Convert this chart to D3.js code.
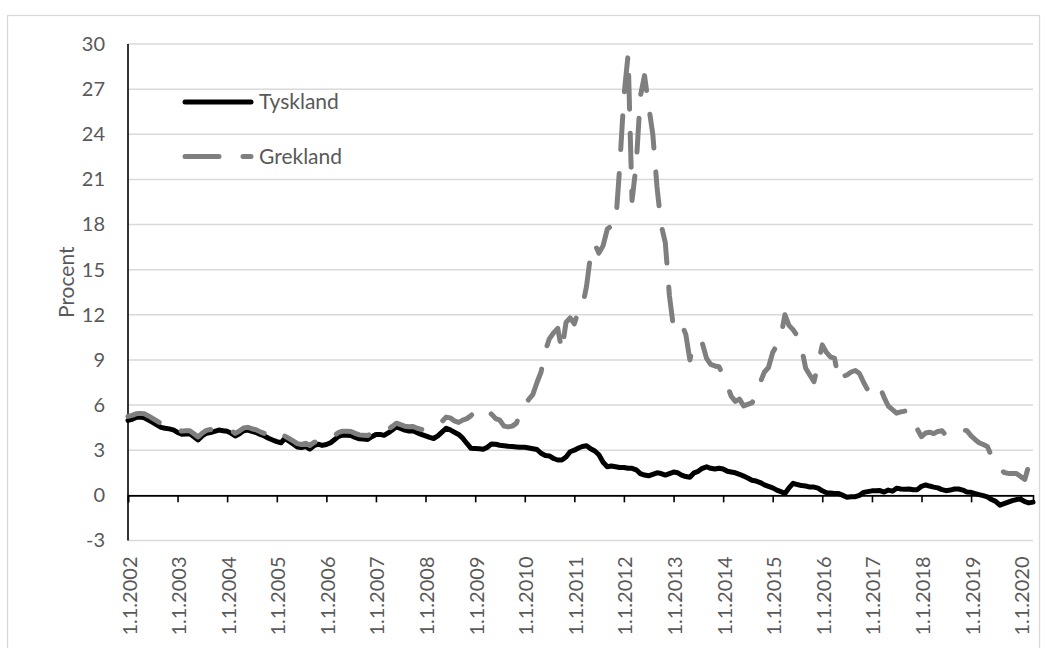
<!DOCTYPE html>
<html>
<head>
<meta charset="utf-8">
<title>Tyskland och Grekland</title>
<script src="https://d3js.org/d3.v7.min.js"></script>
<style>
  body { margin: 0; background: #fff; }
  svg text { font-family: Lato, "Open Sans", sans-serif; fill: #595959; }
</style>
</head>
<body>
<svg width="1047" height="648"></svg>
<script>
// monthly values, jan 2002 - apr 2020 (percent)
var tyskland = [
  4.98, 5.05, 5.18, 5.2, 5.15, 5.0, 4.85, 4.68, 4.52, 4.46, 4.42, 4.35,
  4.18, 4.06, 4.08, 4.1, 3.9, 3.68, 3.95, 4.12, 4.18, 4.25, 4.34, 4.3,
  4.26, 4.12, 3.95, 4.1, 4.3, 4.34, 4.25, 4.18, 4.05, 3.95, 3.8, 3.68,
  3.57, 3.5, 3.78, 3.6, 3.42, 3.22, 3.18, 3.25, 3.08, 3.3, 3.4, 3.32,
  3.38, 3.5, 3.7, 3.92, 4.0, 3.99, 3.98, 3.85, 3.76, 3.74, 3.72, 3.9,
  4.05, 4.05, 3.99, 4.15, 4.35, 4.57, 4.45, 4.34, 4.28, 4.3, 4.17, 4.05,
  3.95, 3.85, 3.78, 3.95, 4.2, 4.46, 4.35, 4.2, 4.05, 3.8, 3.45, 3.13,
  3.12, 3.1, 3.06, 3.2, 3.42, 3.4, 3.33, 3.3, 3.26, 3.24, 3.22, 3.2,
  3.2, 3.15, 3.1, 3.05, 2.8, 2.65, 2.62, 2.45, 2.35, 2.35, 2.55, 2.9,
  3.0, 3.15, 3.25, 3.3, 3.1, 2.95, 2.7, 2.2, 1.9, 1.95, 1.9, 1.85,
  1.85, 1.8, 1.8, 1.7, 1.45, 1.35, 1.3, 1.4, 1.5, 1.45, 1.35, 1.45,
  1.55, 1.5, 1.35, 1.25, 1.2, 1.5, 1.6, 1.8, 1.9, 1.8, 1.75, 1.8,
  1.75, 1.6, 1.55, 1.5, 1.4, 1.28, 1.15, 1.0, 0.95, 0.85, 0.7, 0.6,
  0.5, 0.35, 0.25, 0.12, 0.5, 0.8, 0.72, 0.65, 0.62, 0.55, 0.55, 0.48,
  0.3, 0.17, 0.15, 0.13, 0.12, 0.0, -0.12, -0.1, -0.09, 0.0, 0.2, 0.25,
  0.3, 0.3, 0.32, 0.22, 0.35, 0.28, 0.48, 0.42, 0.4, 0.42, 0.37, 0.38,
  0.6, 0.69, 0.62, 0.55, 0.5, 0.38, 0.31, 0.35, 0.42, 0.42, 0.35, 0.22,
  0.2, 0.12, 0.05, -0.02, -0.1, -0.28, -0.4, -0.65, -0.55, -0.45, -0.35, -0.28,
  -0.25, -0.42, -0.5, -0.45
];

var grekland = [
  5.25, 5.32, 5.42, 5.45, 5.42, 5.28, 5.12, 4.95, 4.78, 4.72, 4.66, 4.6,
  4.4, 4.27, 4.3, 4.3, 4.1, 3.88, 4.13, 4.32, 4.38, 4.44, 4.52, 4.48,
  4.44, 4.3, 4.12, 4.28, 4.48, 4.52, 4.43, 4.36, 4.22, 4.12, 3.97, 3.85,
  3.74, 3.66, 3.94, 3.78, 3.62, 3.44, 3.38, 3.46, 3.32, 3.52, 3.62, 3.56,
  3.62, 3.76, 3.98, 4.18, 4.26, 4.26, 4.24, 4.12, 4.02, 4.0, 3.98, 4.14,
  4.3, 4.3, 4.24, 4.4, 4.58, 4.8, 4.7, 4.6, 4.56, 4.58, 4.46, 4.38,
  4.4, 4.42, 4.45, 4.57, 4.9, 5.2, 5.15, 4.95, 4.85, 5.0, 5.1, 5.3,
  5.6, 5.75, 5.83, 5.6, 5.4, 5.1, 5.0, 4.6, 4.55, 4.6, 4.8, 5.5,
  6.0, 6.4, 6.7, 7.5, 8.2, 9.6, 10.4, 10.8, 11.1, 9.6, 11.5, 11.8,
  11.4, 12.3, 12.5, 13.9, 16.0, 16.7, 16.1, 16.6, 17.7, 17.9, 18.0, 21.8,
  26.5, 29.3, 19.6, 22.0, 26.5, 27.9, 25.9, 24.0, 20.5, 18.0, 16.8, 13.3,
  11.1, 11.2, 11.4, 10.7, 9.0, 10.2, 10.2, 10.1, 9.1, 8.7, 8.6, 8.55,
  8.0, 7.3, 6.6, 6.25, 6.4, 5.95, 6.05, 6.15, 6.6, 7.5, 8.2, 8.5,
  9.5, 10.0, 10.5, 12.0, 11.3, 11.0, 10.6, 9.8, 8.45, 8.0, 7.56, 8.7,
  10.0, 9.5, 9.2, 9.1, 7.6, 7.9, 8.0, 8.2, 8.3, 8.1, 7.5, 7.0,
  7.0, 7.4, 7.2, 6.5, 5.94, 5.7, 5.46, 5.55, 5.6, 5.5, 5.1, 4.4,
  3.9, 4.15, 4.2, 4.1, 4.25, 4.3, 3.95, 4.0, 4.15, 4.3, 4.35, 4.3,
  3.95, 3.7, 3.5, 3.38, 3.25, 2.6, 2.15, 1.8, 1.52, 1.46, 1.45, 1.45,
  1.25, 1.06, 2.0, 1.85
];

var yTicks = [-3, 0, 3, 6, 9, 12, 15, 18, 21, 24, 27, 30];
var seriesNames = ["Tyskland", "Grekland"];
var yTitle = "Procent";

var months = d3.timeMonth.range(new Date(2002, 0, 1), new Date(2020, 4, 1));
var years = d3.timeYear.range(new Date(2002, 0, 1), new Date(2020, 1, 1));

var svg = d3.select("svg");
var plotLeft = 128, plotRight = 1033, plotTop = 44, plotBottom = 540.5;

var x = d3.scaleTime()
    .domain([months[0], months[months.length - 1]])
    .range([plotLeft, plotRight]);

var y = d3.scaleLinear()
    .domain([-3, 30])
    .range([plotBottom, plotTop]);

// outer chart border
svg.append("rect")
    .attr("x", 7.5).attr("y", 15.5)
    .attr("width", 1032).attr("height", 700)
    .attr("fill", "none")
    .attr("stroke", "#d9d9d9")
    .attr("stroke-width", 1.3);

// gridlines
svg.append("g")
  .selectAll("line")
  .data(yTicks)
  .enter().append("line")
    .attr("x1", plotLeft).attr("x2", plotRight)
    .attr("y1", function(d) { return y(d); })
    .attr("y2", function(d) { return y(d); })
    .attr("stroke", "#d9d9d9")
    .attr("stroke-width", 1.5);

// y labels (plain hyphen for -3, like the original)
var yAxis = svg.append("g")
    .attr("transform", "translate(" + plotLeft + ",0)")
    .call(d3.axisLeft(y).tickValues(yTicks).tickSize(0).tickPadding(23)
      .tickFormat(function(d) { return String(d); }));
yAxis.select(".domain").remove();
yAxis.selectAll("text")
    .attr("font-size", 20)
    .attr("font-family", null)
    .attr("fill", "#595959");

// vertical axis line
svg.append("line")
    .attr("x1", plotLeft).attr("x2", plotLeft)
    .attr("y1", plotTop).attr("y2", plotBottom)
    .attr("stroke", "#000")
    .attr("stroke-width", 1.6);

svg.append("text")
    .attr("transform", "translate(67," + ((plotTop + plotBottom) / 2 - 10) + ") rotate(-90)")
    .attr("text-anchor", "middle")
    .attr("dy", "0.35em")
    .attr("font-size", 21)
    .text(yTitle);

// zero axis with year ticks
var xAxis = svg.append("g")
    .attr("transform", "translate(0," + y(0) + ")")
    .call(d3.axisBottom(x).tickValues(years).tickSize(7).tickFormat(""));
xAxis.select(".domain")
    .attr("stroke", "#000")
    .attr("stroke-width", 1.6);
xAxis.selectAll(".tick line")
    .attr("stroke", "#000")
    .attr("stroke-width", 1.6);

// date labels below plot
var fmt = d3.timeFormat("%-d.%-m.%Y");
var labels = svg.append("g")
    .attr("transform", "translate(0," + plotBottom + ")")
    .call(d3.axisBottom(x).tickValues(years).tickSize(0).tickFormat(fmt));
labels.select(".domain").remove();
labels.selectAll("text")
    .attr("font-size", 20)
    .attr("font-family", null)
    .attr("fill", "#595959")
    .attr("text-anchor", "end")
    .attr("transform", "rotate(-90)")
    .attr("x", -16)
    .attr("y", 1)
    .attr("dy", "0.35em");

var line = d3.line()
    .x(function(d, i) { return x(months[i]); })
    .y(function(d) { return y(d); });

svg.append("path")
    .datum(tyskland)
    .attr("fill", "none")
    .attr("stroke", "#000")
    .attr("stroke-width", 5)
    .attr("stroke-linejoin", "round")
    .attr("stroke-linecap", "round")
    .attr("d", line);

svg.append("path")
    .datum(grekland)
    .attr("fill", "none")
    .attr("stroke", "#7f7f7f")
    .attr("stroke-width", 5)
    .attr("stroke-linejoin", "round")
    .attr("stroke-linecap", "round")
    .attr("stroke-dasharray", "34,24")
    .attr("d", line);

// legend
var legend = svg.append("g")
    .selectAll("g")
    .data(seriesNames)
    .enter().append("g")
    .attr("transform", function(d, i) { return "translate(185," + (102 + i * 54.5) + ")"; });

legend.append("line")
    .attr("x1", 0).attr("x2", 66)
    .attr("stroke", function(d, i) { return i == 0 ? "#000" : "#7f7f7f"; })
    .attr("stroke-width", 5)
    .attr("stroke-linecap", "round")
    .attr("stroke-dasharray", function(d, i) { return i == 0 ? null : "34,24"; });

legend.append("text")
    .attr("x", 74)
    .attr("dy", "0.35em")
    .attr("font-size", 21)
    .text(function(d) { return d; });
</script>
</body>
</html>
